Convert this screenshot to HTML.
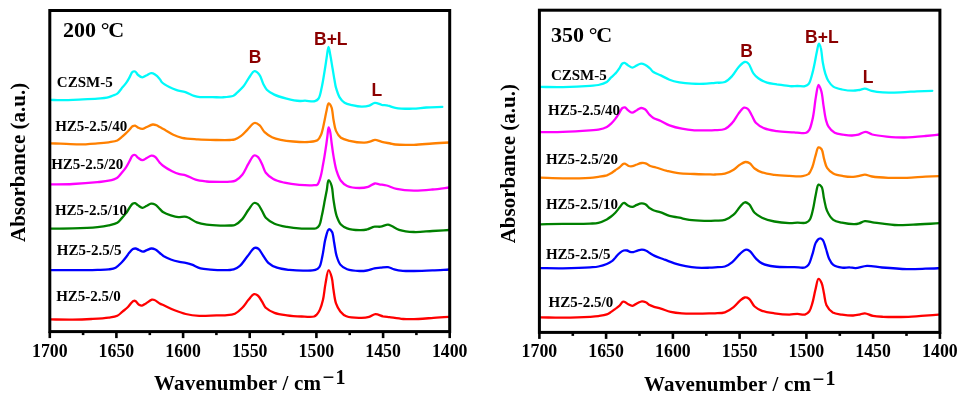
<!DOCTYPE html><html><head><meta charset="utf-8"><style>html,body{margin:0;padding:0;background:#fff;overflow:hidden}svg{display:block;will-change:transform}</style></head><body>
<svg width="966" height="404" viewBox="0 0 966 404">
<rect width="966" height="404" fill="#fff"/>
<g fill="none" stroke-width="2.3" stroke-linejoin="round" stroke-linecap="round">
<path d="M50.5 99.9 C53.8 100.0 56.6 100.2 60.4 100.2 C65.6 100.2 72.7 99.9 78.9 99.6 C85.1 99.3 92.4 99.0 97.5 98.6 C101.2 98.3 104.1 98.3 106.9 97.7 C109.2 97.2 111.2 96.2 113.0 95.5 C114.6 94.9 116.0 94.6 117.3 93.6 C118.9 92.4 120.2 90.1 121.6 88.4 C123.1 86.7 124.7 85.0 126.0 83.2 C127.3 81.4 128.3 79.5 129.4 77.6 C130.5 75.7 131.3 72.8 132.5 71.9 C133.3 71.3 134.3 71.2 135.1 71.5 C136.2 71.9 136.9 74.0 138.1 75.0 C139.3 76.0 140.9 77.3 142.4 77.3 C143.8 77.3 145.3 75.9 146.8 75.2 C148.2 74.5 149.7 73.3 151.1 73.2 C152.4 73.1 153.7 73.7 155.0 74.5 C156.6 75.5 158.5 77.5 159.7 78.9 C160.7 80.0 160.8 81.2 161.9 82.3 C163.5 83.9 166.8 85.7 169.3 87.0 C171.7 88.3 174.1 89.2 176.7 90.1 C179.4 91.0 182.5 91.2 185.4 92.2 C188.3 93.2 191.4 95.1 194.0 95.9 C196.1 96.6 197.6 96.9 200.0 97.1 C203.4 97.4 208.5 97.1 212.4 97.1 C215.9 97.1 218.9 97.5 222.3 97.3 C225.9 97.1 230.8 96.9 233.4 95.8 C235.1 95.0 235.7 93.9 237.1 92.7 C238.9 91.0 241.4 88.9 243.3 86.6 C245.4 84.1 247.0 80.6 248.9 77.9 C250.7 75.4 252.6 71.3 254.5 71.1 C256.1 70.9 258.1 73.1 259.4 74.8 C261.1 76.9 261.8 80.9 263.1 83.5 C264.3 85.8 265.1 87.9 266.8 89.7 C268.7 91.7 271.4 93.2 274.3 94.6 C277.8 96.3 282.4 97.5 286.6 98.6 C290.9 99.7 296.6 100.8 300.0 101.0 C302.1 101.1 303.1 100.7 305.0 100.7 C307.7 100.7 312.5 101.9 314.9 101.2 C316.5 100.7 317.6 100.0 318.6 98.5 C320.2 96.2 320.8 91.6 321.7 87.4 C322.9 82.2 323.9 75.1 324.8 69.8 C325.5 65.5 326.0 61.9 326.6 58.0 C327.2 54.3 327.8 47.0 328.5 47.0 C329.1 47.0 329.7 51.9 330.3 55.0 C331.1 59.2 332.0 65.3 332.8 69.8 C333.4 73.5 333.9 76.9 334.5 80.0 C335.0 82.7 335.2 84.8 335.9 87.4 C336.8 90.5 338.0 94.6 339.6 97.3 C341.0 99.6 342.6 101.5 344.6 102.8 C346.7 104.1 349.3 104.5 352.0 105.1 C355.0 105.8 358.8 106.6 361.9 106.6 C364.5 106.6 367.1 106.3 369.3 105.6 C371.3 105.0 372.9 103.1 374.9 102.9 C377.0 102.7 379.5 104.3 381.7 104.8 C383.8 105.2 385.8 105.1 387.9 105.6 C390.3 106.1 392.3 107.3 395.3 107.8 C399.8 108.6 407.2 108.8 412.6 108.7 C417.4 108.6 421.6 107.8 426.3 107.5 C431.4 107.2 437.0 107.1 442.3 106.9" stroke="#00FAFA"/>
<path d="M50.5 143.4 C53.8 143.5 56.6 143.5 60.4 143.6 C65.6 143.8 72.7 144.4 78.9 144.4 C85.1 144.4 92.1 143.8 97.5 143.4 C101.7 143.1 105.2 142.8 108.7 142.3 C111.8 141.8 115.0 141.6 117.3 140.5 C119.1 139.7 120.2 138.3 121.6 137.1 C123.1 135.9 124.6 134.5 126.0 133.2 C127.2 132.0 128.3 130.9 129.4 129.7 C130.6 128.5 131.8 126.7 132.9 126.1 C133.7 125.7 134.3 125.5 135.1 125.6 C136.1 125.8 137.0 127.1 138.1 127.6 C139.4 128.2 141.0 129.0 142.4 128.9 C143.9 128.8 145.2 127.7 146.8 127.0 C148.6 126.2 151.0 124.7 152.8 124.5 C154.1 124.4 155.2 124.8 156.3 125.2 C157.5 125.6 158.4 126.4 159.7 127.1 C161.5 128.1 163.8 129.2 165.9 130.4 C168.3 131.7 170.7 133.5 173.3 134.7 C176.0 136.0 178.6 137.0 182.0 137.8 C186.5 138.8 192.5 139.0 198.0 139.4 C204.0 139.8 210.9 139.9 216.6 140.0 C221.4 140.1 226.6 140.2 230.0 140.0 C232.0 139.9 233.2 140.0 234.9 139.4 C236.9 138.7 239.1 137.4 241.1 135.9 C243.3 134.3 245.1 131.9 247.3 129.8 C249.6 127.6 252.4 123.2 254.7 122.9 C256.4 122.6 258.2 124.1 259.7 125.4 C261.6 127.0 262.6 130.3 264.6 132.2 C266.7 134.2 269.3 135.9 272.0 137.2 C274.7 138.5 277.5 139.2 280.7 139.9 C284.4 140.7 288.7 141.2 293.1 141.5 C298.1 141.9 304.7 142.3 309.2 141.9 C312.4 141.6 315.4 141.6 317.4 140.2 C319.2 139.0 320.1 136.9 321.1 134.6 C322.5 131.4 323.3 126.3 324.2 122.2 C325.1 118.1 325.9 113.3 326.7 109.9 C327.3 107.4 327.7 103.6 328.6 103.4 C329.3 103.3 330.6 105.2 331.3 106.8 C332.6 109.6 332.7 115.6 333.5 119.8 C334.3 123.7 334.6 127.8 336.0 130.9 C337.2 133.6 338.7 136.1 340.9 137.7 C343.2 139.4 346.3 140.0 349.6 140.8 C353.9 141.8 360.6 142.7 364.5 142.6 C367.0 142.5 368.8 141.9 370.6 141.4 C372.2 141.0 373.4 139.9 375.0 139.8 C377.0 139.7 379.4 141.2 381.8 141.8 C384.5 142.5 387.9 143.0 390.4 143.5 C392.3 143.9 393.1 144.3 395.3 144.5 C399.5 145.0 407.7 145.0 413.9 144.8 C420.1 144.6 426.4 143.9 432.4 143.5 C438.1 143.1 443.6 142.8 449.2 142.5" stroke="#FF8000"/>
<path d="M50.5 184.4 C57.9 184.3 65.2 184.4 72.8 184.0 C80.8 183.6 90.9 182.8 97.5 182.1 C102.0 181.6 105.3 181.5 108.7 180.7 C111.8 180.0 115.1 179.2 117.3 177.7 C119.2 176.4 120.2 174.6 121.6 172.9 C123.1 171.1 124.7 169.3 126.0 167.3 C127.3 165.4 128.3 163.3 129.4 161.3 C130.5 159.4 131.3 156.5 132.5 155.6 C133.3 155.0 134.3 154.8 135.1 155.0 C136.1 155.3 137.0 157.0 138.1 157.8 C139.4 158.7 140.9 160.2 142.4 160.2 C143.8 160.2 145.3 158.8 146.8 158.0 C148.3 157.2 150.0 155.7 151.5 155.6 C152.7 155.5 153.9 156.0 155.0 156.8 C156.6 157.9 158.2 161.0 159.7 162.6 C161.0 163.9 161.8 164.8 163.4 166.0 C165.6 167.7 169.3 169.8 172.1 171.2 C174.6 172.4 177.1 173.4 179.5 174.1 C181.6 174.7 183.4 174.6 185.7 175.3 C188.7 176.2 192.1 178.7 195.6 179.7 C199.1 180.8 202.8 181.1 206.7 181.5 C211.0 181.9 216.1 181.9 220.3 181.9 C223.8 181.9 227.2 182.0 230.0 181.7 C232.1 181.5 233.7 181.5 235.5 180.6 C237.8 179.5 240.3 177.2 242.3 174.7 C244.7 171.7 246.4 167.0 248.5 163.6 C250.3 160.6 252.2 156.1 254.1 155.5 C255.3 155.1 256.7 155.9 257.8 156.8 C259.5 158.2 260.8 161.6 262.1 164.2 C263.5 166.9 264.0 170.3 265.8 172.8 C267.7 175.3 270.4 177.4 273.3 179.0 C276.5 180.8 280.4 181.7 284.4 182.7 C289.0 183.8 294.3 184.5 299.3 184.9 C304.2 185.3 310.9 185.5 314.1 185.2 C315.6 185.1 316.5 185.4 317.4 184.6 C318.8 183.4 319.6 180.0 320.5 177.1 C321.6 173.5 322.2 169.1 323.0 164.8 C323.9 160.1 324.8 154.7 325.5 149.9 C326.2 145.5 326.8 141.0 327.3 137.0 C327.8 133.6 328.0 127.5 328.6 127.4 C329.0 127.4 329.8 130.1 330.2 132.0 C330.8 134.7 331.0 138.4 331.5 142.0 C332.1 146.3 332.7 151.4 333.5 156.1 C334.4 161.0 335.2 166.5 336.6 170.9 C337.8 174.6 339.0 178.2 340.9 180.8 C342.6 183.1 344.5 184.8 347.1 186.0 C350.4 187.5 355.7 188.0 359.5 188.0 C362.7 188.0 365.5 187.6 368.2 186.8 C370.6 186.1 372.9 183.8 374.9 183.5 C376.5 183.3 377.6 184.0 379.3 184.3 C381.4 184.7 384.1 184.8 386.7 185.5 C389.8 186.3 392.8 188.1 396.6 188.9 C401.5 190.0 408.0 190.6 413.9 190.7 C420.0 190.8 426.4 190.1 432.4 189.5 C438.1 189.0 443.6 188.2 449.2 187.5" stroke="#FF00FF"/>
<path d="M50.5 228.6 C57.9 228.5 65.2 228.6 72.8 228.4 C80.8 228.2 90.9 227.8 97.5 227.1 C102.0 226.6 105.2 226.1 108.7 225.3 C111.8 224.6 115.1 224.0 117.3 222.7 C119.2 221.6 120.2 219.9 121.6 218.4 C123.1 216.8 124.7 215.0 126.0 213.2 C127.3 211.5 128.3 209.6 129.4 208.0 C130.4 206.5 131.4 204.5 132.5 203.7 C133.3 203.2 134.2 202.9 135.1 203.1 C136.1 203.3 137.0 204.7 138.1 205.4 C139.4 206.2 140.9 207.7 142.4 207.8 C143.8 207.9 145.3 206.5 146.8 205.8 C148.2 205.1 149.7 203.9 151.1 203.7 C152.4 203.5 153.7 203.8 155.0 204.5 C156.6 205.3 158.2 207.5 159.7 208.9 C161.0 210.1 161.8 211.3 163.4 212.3 C165.4 213.6 168.3 214.6 170.8 215.4 C173.3 216.2 175.9 217.0 178.3 217.2 C180.5 217.3 182.7 216.5 184.5 216.6 C185.9 216.7 186.8 216.9 188.2 217.5 C190.5 218.4 193.7 221.2 196.8 222.4 C199.9 223.6 203.1 224.2 206.7 224.7 C210.9 225.3 216.1 225.5 220.3 225.6 C223.8 225.7 227.3 225.7 230.0 225.5 C231.9 225.4 233.2 225.7 234.9 225.0 C237.2 224.0 240.1 221.5 242.3 219.1 C244.7 216.5 246.4 212.6 248.5 209.8 C250.4 207.3 252.2 203.5 254.1 203.0 C255.3 202.6 256.7 203.3 257.8 204.2 C259.4 205.5 260.8 208.7 262.1 211.0 C263.4 213.2 264.0 215.8 265.8 217.8 C267.9 220.1 271.2 222.2 274.5 223.7 C278.1 225.3 282.6 226.1 286.9 226.9 C291.6 227.8 297.1 228.3 301.7 228.6 C305.7 228.8 310.3 228.7 312.9 228.6 C314.3 228.5 315.2 228.8 316.2 228.3 C317.3 227.8 318.5 226.8 319.3 225.4 C320.6 223.2 321.0 219.4 321.8 215.8 C322.9 211.2 324.0 204.5 324.9 199.8 C325.6 196.1 326.2 193.3 326.8 190.0 C327.4 186.7 327.6 180.3 328.6 180.2 C329.4 180.1 330.9 183.6 331.7 186.1 C332.8 189.6 332.7 195.1 333.5 199.8 C334.3 204.9 335.1 211.4 336.6 215.8 C337.8 219.2 339.0 222.4 340.9 224.5 C342.6 226.3 344.6 227.4 347.1 228.3 C350.4 229.5 355.9 230.0 359.5 230.1 C362.3 230.2 364.5 230.0 366.9 229.5 C369.4 228.9 372.0 227.1 374.4 226.7 C376.5 226.3 378.4 227.0 380.5 226.7 C382.9 226.4 385.9 224.5 388.0 224.6 C389.5 224.7 390.3 225.4 391.7 226.0 C393.8 226.9 396.1 228.8 399.1 229.8 C403.1 231.1 408.7 231.8 413.9 232.0 C419.7 232.3 426.4 231.3 432.4 231.0 C438.1 230.7 443.6 230.3 449.2 230.0" stroke="#008000"/>
<path d="M50.5 270.2 C57.9 270.2 65.2 270.2 72.8 270.2 C80.8 270.2 90.9 270.1 97.5 269.9 C102.0 269.8 105.4 269.9 108.7 269.4 C111.3 269.0 113.5 268.8 115.6 267.7 C117.8 266.5 119.8 264.3 121.6 262.5 C123.3 260.8 124.7 259.0 126.0 257.3 C127.2 255.7 128.2 254.0 129.4 252.6 C130.5 251.3 131.7 249.8 132.9 249.1 C133.8 248.6 134.6 248.4 135.5 248.5 C136.6 248.6 137.8 249.5 139.0 250.0 C140.3 250.5 141.6 251.7 142.9 251.7 C144.2 251.7 145.4 250.7 146.8 250.2 C148.3 249.6 150.0 248.6 151.5 248.5 C152.9 248.4 154.1 248.9 155.4 249.5 C156.9 250.2 158.3 251.9 159.7 253.0 C161.0 254.0 161.9 255.0 163.4 256.0 C165.4 257.2 168.2 258.5 170.8 259.5 C173.5 260.5 176.8 261.3 179.5 261.9 C181.7 262.4 183.7 262.3 185.7 262.8 C187.8 263.3 189.7 263.9 191.9 264.7 C194.6 265.7 197.5 267.6 200.5 268.4 C203.6 269.2 206.9 269.3 210.4 269.6 C214.3 269.9 218.8 270.2 222.8 270.2 C226.6 270.2 230.7 270.3 233.7 269.4 C236.2 268.7 237.9 267.6 239.9 265.9 C242.5 263.7 244.8 259.6 247.3 256.6 C249.7 253.6 252.4 248.6 254.7 247.9 C256.0 247.5 257.2 248.0 258.4 248.8 C260.2 250.0 261.7 253.6 263.4 256.0 C265.0 258.3 266.2 260.9 268.3 262.8 C270.6 264.9 273.7 266.5 277.0 267.7 C280.7 269.0 285.0 269.4 289.4 269.9 C294.4 270.4 300.7 270.7 305.4 270.6 C309.1 270.6 312.8 270.8 315.3 269.9 C317.0 269.3 318.2 268.6 319.3 267.1 C321.0 264.8 321.5 260.1 322.4 255.9 C323.6 250.8 324.2 243.4 325.5 238.6 C326.5 235.0 327.4 229.7 328.8 229.3 C329.7 229.0 331.2 230.5 332.0 231.8 C333.3 234.0 333.4 238.6 334.1 242.3 C334.9 246.5 335.4 251.9 336.6 255.9 C337.6 259.2 338.5 262.3 340.3 264.6 C342.0 266.7 344.3 268.2 347.1 269.3 C350.5 270.6 355.9 270.9 359.5 271.0 C362.3 271.1 364.4 270.9 366.9 270.5 C369.4 270.1 372.0 268.8 374.4 268.3 C376.5 267.9 378.4 267.9 380.5 267.7 C382.9 267.5 385.6 266.8 388.0 267.1 C390.2 267.4 391.9 268.7 394.2 269.3 C396.8 270.0 399.7 270.5 402.8 270.8 C406.3 271.1 409.7 271.0 413.9 271.0 C419.3 271.0 426.4 270.7 432.4 270.4 C438.1 270.2 443.6 269.8 449.2 269.5" stroke="#0000FF"/>
<path d="M50.5 319.4 C57.9 319.5 65.7 319.7 72.8 319.6 C79.3 319.5 85.2 319.3 91.3 319.0 C97.2 318.7 103.9 318.4 108.7 317.7 C112.1 317.2 114.9 317.0 117.3 315.8 C119.4 314.8 120.8 313.0 122.5 311.6 C124.2 310.2 126.2 308.8 127.7 307.3 C129.1 305.9 130.1 304.2 131.2 303.0 C132.1 302.1 133.0 301.0 133.8 300.8 C134.4 300.6 134.9 300.8 135.5 301.1 C136.5 301.7 137.8 304.0 139.0 304.7 C140.0 305.3 141.0 305.7 142.0 305.6 C143.2 305.5 144.5 304.2 145.9 303.4 C147.7 302.3 150.3 300.1 151.9 299.7 C152.9 299.5 153.5 299.6 154.5 300.0 C156.0 300.5 157.9 302.4 159.7 303.4 C161.3 304.3 162.8 304.8 164.7 305.7 C167.4 307.0 171.2 308.9 174.6 310.3 C178.2 311.7 181.8 313.1 185.7 314.0 C190.0 315.0 194.5 315.6 199.3 315.9 C204.7 316.2 211.9 315.4 216.6 315.3 C219.9 315.2 222.1 315.5 225.0 315.3 C228.2 315.0 232.0 315.0 234.9 313.7 C237.7 312.4 240.1 310.1 242.3 307.8 C244.6 305.5 246.4 302.2 248.5 299.8 C250.3 297.7 252.3 294.6 254.1 294.2 C255.4 293.9 256.7 294.6 257.8 295.5 C259.4 296.7 260.8 299.6 262.1 301.7 C263.4 303.7 264.0 306.1 265.8 307.8 C267.9 309.9 271.2 311.6 274.5 312.8 C278.2 314.2 282.6 314.7 286.9 315.3 C291.6 316.0 297.0 316.3 301.7 316.5 C306.0 316.7 311.5 317.3 314.1 316.5 C315.4 316.1 315.9 315.4 316.8 314.5 C317.9 313.3 319.0 311.6 319.9 309.6 C321.1 306.9 322.1 303.4 323.0 299.7 C324.1 295.0 324.5 288.7 325.5 283.6 C326.4 278.9 327.4 270.3 328.6 270.2 C329.5 270.1 330.9 274.6 331.7 277.4 C332.7 280.9 332.8 285.6 333.5 289.8 C334.2 294.2 334.7 299.6 336.0 303.4 C337.1 306.5 338.5 309.2 340.3 311.4 C342.0 313.4 343.7 315.2 346.4 316.3 C350.2 317.8 357.4 317.9 361.6 317.8 C364.5 317.7 366.7 317.4 369.1 316.8 C371.4 316.2 373.3 314.3 375.5 314.2 C377.9 314.1 380.6 315.8 383.0 316.3 C385.2 316.7 386.8 316.8 389.3 317.1 C393.0 317.6 398.5 318.7 403.2 319.0 C408.1 319.3 413.3 319.2 418.4 319.0 C423.4 318.8 428.5 318.2 433.5 317.8 C438.6 317.4 443.6 317.1 448.7 316.8" stroke="#FF0000"/>
<path d="M540.0 86.9 C547.6 87.0 554.9 87.3 562.8 87.1 C571.5 86.9 583.5 86.3 590.0 85.8 C593.6 85.5 595.6 85.6 598.4 85.0 C601.2 84.4 604.6 83.4 606.8 82.0 C608.7 80.8 609.6 78.8 611.1 77.4 C612.5 76.0 614.0 75.1 615.3 73.6 C616.8 72.0 618.3 69.9 619.5 68.1 C620.6 66.5 621.3 64.3 622.4 63.5 C623.1 63.0 623.7 62.8 624.5 62.9 C625.5 63.1 626.7 64.4 627.9 65.2 C629.3 66.0 630.9 67.7 632.4 67.7 C633.9 67.7 635.3 66.1 636.8 65.4 C638.2 64.7 639.7 63.8 641.1 63.7 C642.4 63.6 643.7 64.1 645.0 64.7 C646.6 65.4 648.3 66.9 649.7 68.2 C651.1 69.4 651.8 70.9 653.4 72.0 C655.3 73.4 658.2 74.2 660.8 75.4 C663.6 76.7 666.4 78.5 669.5 79.7 C672.6 80.9 675.9 81.7 679.4 82.4 C683.3 83.1 687.5 83.5 691.8 83.7 C696.5 83.9 702.4 83.9 706.6 83.7 C709.8 83.5 712.1 83.1 715.0 82.8 C718.2 82.5 722.0 83.2 724.9 82.0 C727.8 80.8 730.1 78.2 732.3 75.8 C734.6 73.3 736.3 69.6 738.5 67.2 C740.4 65.1 742.8 62.3 744.7 62.0 C746.0 61.8 747.3 62.4 748.4 63.5 C750.3 65.3 751.5 70.8 753.4 73.4 C754.9 75.5 756.3 76.9 758.3 78.3 C760.7 80.0 763.9 81.6 767.0 82.6 C770.1 83.6 773.4 83.7 776.9 84.3 C781.0 84.9 786.2 86.0 790.0 86.2 C792.8 86.4 794.9 86.0 797.4 86.0 C799.9 86.0 802.9 86.7 804.9 86.2 C806.4 85.8 807.5 85.4 808.6 84.1 C810.3 82.1 811.3 77.2 812.3 73.6 C813.3 70.0 814.0 66.2 814.8 62.5 C815.5 59.0 816.1 55.3 816.8 52.0 C817.5 49.0 818.1 43.7 818.9 43.6 C819.5 43.5 820.2 45.7 820.7 47.5 C821.7 50.8 822.0 57.9 822.8 62.5 C823.5 66.5 824.3 70.3 825.3 73.6 C826.2 76.4 827.0 78.8 828.4 81.0 C829.7 83.1 831.2 85.2 833.3 86.6 C835.6 88.1 838.9 88.8 842.0 89.5 C845.4 90.2 849.9 90.7 853.1 90.7 C855.5 90.7 857.3 90.3 859.3 90.0 C861.2 89.7 863.0 88.6 864.9 88.7 C867.1 88.8 869.1 90.3 871.7 90.9 C874.9 91.6 878.6 92.1 882.8 92.4 C888.0 92.7 894.9 92.5 900.7 92.3 C906.2 92.1 911.5 91.6 916.8 91.3 C922.0 91.1 927.1 91.0 932.3 90.8" stroke="#00FAFA"/>
<path d="M540.0 132.1 C547.6 132.0 554.9 132.2 562.8 131.9 C571.5 131.6 583.5 130.8 590.0 130.3 C593.6 130.0 595.6 130.2 598.4 129.6 C601.2 129.0 604.5 128.1 606.8 126.9 C608.6 126.0 609.7 124.9 611.1 123.6 C612.6 122.2 614.0 120.6 615.3 118.9 C616.8 117.0 618.2 114.5 619.5 112.6 C620.6 111.0 621.3 108.8 622.4 108.0 C623.2 107.5 624.1 107.2 624.9 107.4 C625.9 107.7 626.8 109.3 627.9 110.1 C629.1 111.0 630.6 112.6 632.0 112.7 C633.5 112.8 635.2 111.0 636.8 110.2 C638.3 109.4 639.7 108.1 641.1 108.0 C642.4 107.9 643.8 108.5 645.0 109.3 C646.7 110.4 648.2 113.4 649.7 114.9 C650.9 116.1 651.9 117.0 653.4 117.9 C655.4 119.1 658.3 119.8 660.8 121.0 C663.6 122.3 666.3 124.1 669.5 125.3 C673.2 126.7 677.7 127.9 681.9 128.7 C686.0 129.5 690.0 130.0 694.3 130.3 C699.0 130.6 705.3 130.3 709.1 130.3 C711.5 130.3 712.8 130.4 715.0 130.2 C717.9 130.0 722.0 130.3 724.9 129.0 C727.8 127.8 730.1 125.2 732.3 122.8 C734.7 120.2 736.4 116.3 738.5 113.6 C740.3 111.3 742.3 108.2 744.1 107.7 C745.4 107.4 746.7 108.0 747.8 108.9 C749.5 110.2 750.7 113.6 752.1 116.0 C753.4 118.3 754.0 120.8 755.8 122.8 C757.9 125.1 761.2 127.0 764.5 128.4 C768.1 129.9 772.4 130.4 776.9 131.1 C782.2 131.9 789.6 132.0 794.2 132.4 C797.2 132.7 799.4 133.1 801.6 133.1 C803.3 133.1 804.9 133.4 806.2 132.8 C807.5 132.2 808.4 131.2 809.3 129.8 C810.7 127.6 811.6 123.0 812.4 119.9 C813.1 117.2 813.3 115.2 813.8 112.2 C814.5 107.8 815.1 101.0 816.0 96.1 C816.7 92.0 817.5 85.1 818.5 85.0 C819.3 84.9 820.5 88.6 821.3 91.1 C822.4 94.7 822.7 100.1 823.4 104.8 C824.2 109.6 824.8 115.6 825.9 119.6 C826.7 122.4 827.1 124.6 828.5 126.7 C830.0 129.0 832.2 131.5 834.7 132.8 C837.2 134.1 840.4 134.2 843.3 134.7 C846.2 135.1 849.3 135.6 852.0 135.5 C854.3 135.4 856.2 135.2 858.4 134.6 C860.7 134.0 863.2 131.8 865.5 131.8 C867.8 131.8 869.5 133.8 872.2 134.5 C876.0 135.5 881.5 136.1 886.6 136.6 C892.2 137.1 898.2 137.6 904.4 137.5 C911.1 137.4 919.1 136.6 925.4 136.0 C930.6 135.5 934.9 135.0 939.7 134.5" stroke="#FF00FF"/>
<path d="M540.0 177.7 C547.6 177.9 554.9 178.3 562.8 178.3 C571.5 178.3 583.5 178.2 590.0 177.8 C593.6 177.6 595.6 177.2 598.4 176.8 C601.2 176.4 604.5 176.0 606.8 175.3 C608.5 174.7 609.7 174.0 611.1 173.2 C612.5 172.3 613.9 171.2 615.3 170.2 C616.7 169.2 618.2 168.4 619.5 167.3 C620.8 166.3 622.2 164.4 623.3 163.9 C623.9 163.6 624.3 163.5 624.9 163.6 C625.9 163.8 627.4 165.6 628.7 166.0 C629.9 166.4 631.1 166.4 632.4 166.2 C633.8 166.0 635.3 165.0 636.8 164.5 C638.4 163.9 640.2 163.1 641.9 163.0 C643.4 162.9 645.0 163.1 646.3 163.6 C647.6 164.1 648.3 165.2 649.7 165.8 C651.4 166.6 653.5 166.8 655.9 167.5 C659.1 168.4 663.3 169.9 667.0 170.9 C670.7 171.8 674.1 172.7 678.2 173.2 C683.1 173.8 689.0 173.8 694.3 174.0 C699.3 174.2 705.3 174.3 709.1 174.4 C711.5 174.5 712.8 174.6 715.0 174.5 C717.9 174.4 721.8 174.5 724.9 173.7 C728.0 172.9 731.0 171.3 733.6 169.7 C735.9 168.3 737.7 166.1 739.8 164.8 C741.6 163.6 743.5 162.2 745.3 162.0 C746.8 161.9 748.3 162.4 749.7 163.3 C751.4 164.4 752.7 167.0 754.6 168.5 C756.7 170.1 759.1 171.4 762.0 172.4 C765.5 173.7 770.1 174.3 774.4 174.9 C779.1 175.5 784.5 175.7 789.3 175.9 C793.8 176.1 798.9 176.7 802.4 176.1 C804.9 175.7 807.0 175.4 808.6 174.0 C810.4 172.5 811.2 169.8 812.3 167.2 C813.6 164.0 814.3 159.6 815.4 156.1 C816.4 153.0 817.1 147.9 818.5 147.4 C819.4 147.1 820.8 148.2 821.6 149.3 C822.9 151.1 823.1 155.5 824.0 158.6 C824.9 161.7 825.4 165.3 827.1 167.8 C828.6 170.1 830.8 172.0 833.3 173.4 C836.1 174.9 839.9 175.5 843.2 176.1 C846.5 176.7 850.2 177.0 853.1 176.9 C855.4 176.8 857.3 176.3 859.3 175.9 C861.2 175.5 862.9 174.6 864.9 174.6 C867.1 174.6 869.1 176.0 872.0 176.5 C876.3 177.2 882.7 177.6 888.3 177.8 C894.3 178.0 900.7 178.0 906.9 177.8 C913.1 177.6 919.6 176.9 925.4 176.6 C930.5 176.4 934.9 176.3 939.7 176.2" stroke="#FF8000"/>
<path d="M540.0 224.3 C547.6 224.2 554.9 224.0 562.8 223.9 C571.5 223.8 583.5 223.9 590.0 223.6 C593.6 223.4 595.6 223.5 598.4 222.8 C601.3 222.1 604.5 220.6 606.8 219.4 C608.5 218.5 609.7 217.6 611.1 216.5 C612.6 215.4 613.9 214.1 615.3 212.7 C616.8 211.2 618.2 209.2 619.5 207.6 C620.7 206.1 621.8 204.1 622.8 203.4 C623.4 203.0 623.9 202.9 624.5 203.0 C625.5 203.2 626.6 204.9 627.9 205.5 C629.2 206.2 630.9 207.0 632.4 206.9 C633.9 206.8 635.3 205.5 636.8 204.9 C638.3 204.3 640.0 203.5 641.5 203.4 C642.9 203.3 644.1 203.6 645.4 204.3 C646.9 205.1 648.3 207.2 649.7 208.2 C650.9 209.1 651.9 209.7 653.4 210.3 C655.4 211.1 658.3 211.5 660.8 212.4 C663.6 213.4 666.5 215.0 669.5 215.9 C672.6 216.8 676.1 217.0 679.4 217.7 C682.7 218.4 685.6 219.4 689.3 219.9 C693.7 220.5 699.6 220.7 704.2 220.8 C708.1 220.9 711.5 220.8 715.0 220.6 C718.4 220.4 721.8 220.9 724.9 219.9 C728.0 218.9 731.1 216.9 733.6 214.7 C736.1 212.6 737.8 209.2 739.8 207.0 C741.5 205.2 743.0 202.6 744.7 202.3 C746.1 202.0 747.6 203.0 749.0 204.1 C751.0 205.8 752.3 210.5 754.6 212.8 C756.7 214.9 759.1 216.3 762.0 217.7 C765.5 219.4 770.0 220.6 774.4 221.5 C779.1 222.5 785.1 223.0 789.3 223.1 C792.4 223.2 794.7 222.8 797.4 222.7 C800.2 222.6 803.9 223.5 806.1 222.7 C807.7 222.1 808.8 221.1 809.8 219.6 C811.3 217.4 812.0 213.4 812.9 209.7 C814.0 205.3 814.7 199.4 815.7 194.9 C816.6 191.2 817.1 185.2 818.5 184.7 C819.4 184.4 820.8 185.6 821.6 186.8 C823.1 189.0 823.1 194.6 824.0 198.6 C824.9 202.7 825.4 207.3 827.1 210.9 C828.6 214.3 830.7 217.9 833.3 219.9 C835.7 221.7 838.8 222.0 842.0 222.7 C845.7 223.5 851.2 224.3 854.4 224.2 C856.4 224.1 857.6 223.8 859.3 223.3 C861.1 222.8 862.7 221.4 864.8 221.2 C867.5 220.9 871.1 222.3 874.2 222.7 C877.1 223.1 879.7 223.3 882.8 223.6 C886.4 224.0 890.1 224.8 894.5 225.0 C900.0 225.3 906.3 224.9 913.1 224.7 C921.2 224.4 930.8 223.7 939.7 223.2" stroke="#008000"/>
<path d="M540.0 268.1 C547.6 268.2 554.9 268.4 562.8 268.3 C571.5 268.2 583.5 267.9 590.0 267.4 C593.6 267.1 595.6 267.1 598.4 266.5 C601.2 265.9 604.4 265.0 606.8 264.0 C608.8 263.2 610.4 262.2 611.9 261.1 C613.2 260.1 614.1 258.9 615.3 257.7 C616.6 256.3 618.0 254.3 619.5 253.1 C620.8 252.0 622.3 250.9 623.7 250.5 C624.8 250.2 626.0 250.3 627.1 250.5 C628.1 250.7 629.0 251.5 630.0 251.8 C631.0 252.1 632.1 252.2 633.3 252.1 C634.7 251.9 636.2 251.0 637.6 250.6 C639.0 250.2 640.5 249.7 641.9 249.7 C643.4 249.7 645.0 250.2 646.3 250.8 C647.6 251.3 648.4 252.2 649.7 253.0 C651.2 253.9 652.7 254.9 654.7 255.9 C657.4 257.2 661.3 258.4 664.6 259.7 C667.9 260.9 671.1 262.3 674.5 263.4 C678.1 264.5 681.9 265.4 685.6 266.1 C689.3 266.8 692.9 267.4 696.7 267.7 C700.7 268.0 705.7 267.8 709.1 267.7 C711.4 267.6 712.8 267.5 715.0 267.3 C717.9 267.1 721.9 267.4 724.9 266.5 C727.7 265.6 730.0 264.0 732.3 262.1 C735.0 260.0 737.4 256.3 739.8 254.1 C741.7 252.4 743.5 250.2 745.3 249.8 C746.8 249.5 748.3 250.1 749.7 251.0 C751.8 252.4 753.6 256.3 755.8 258.4 C757.8 260.3 759.4 262.1 762.0 263.4 C765.3 265.0 769.7 265.9 774.4 266.5 C780.2 267.3 788.6 266.9 794.2 267.1 C798.3 267.2 802.4 268.3 804.9 267.5 C806.6 267.0 807.5 266.1 808.6 264.6 C810.2 262.4 811.1 258.2 812.3 254.7 C813.6 250.8 814.4 245.1 816.0 242.3 C817.1 240.5 818.4 238.6 819.7 238.4 C820.7 238.2 821.9 238.9 822.8 239.9 C824.2 241.5 824.9 245.5 825.9 248.5 C827.0 251.7 827.6 255.5 829.0 258.4 C830.2 260.9 831.3 263.4 833.3 264.9 C835.5 266.6 839.2 267.3 842.0 267.7 C844.5 268.0 847.1 267.2 849.4 267.3 C851.5 267.4 853.2 268.3 855.5 268.2 C858.7 268.1 862.9 266.1 867.0 265.9 C871.7 265.7 876.4 267.0 882.1 267.5 C889.3 268.1 899.2 268.9 906.9 269.1 C913.5 269.2 919.6 268.9 925.4 268.7 C930.5 268.6 934.9 268.4 939.7 268.2" stroke="#0000FF"/>
<path d="M540.0 317.3 C547.6 317.4 554.9 317.8 562.8 317.7 C571.5 317.6 583.5 317.2 590.0 316.8 C593.6 316.6 595.6 316.5 598.4 316.1 C601.2 315.7 604.5 315.3 606.8 314.4 C608.5 313.7 609.7 312.8 611.1 311.9 C612.5 311.0 613.9 309.9 615.3 308.9 C616.7 307.8 618.2 306.8 619.5 305.6 C620.7 304.4 621.8 302.3 622.8 301.8 C623.4 301.5 623.9 301.6 624.5 301.8 C625.6 302.1 627.0 303.6 628.3 304.3 C629.6 305.0 631.0 305.9 632.4 305.8 C634.0 305.7 635.6 304.0 637.2 303.2 C638.8 302.5 640.4 301.4 641.9 301.3 C643.2 301.2 644.6 301.7 645.8 302.3 C647.2 302.9 648.4 304.4 649.7 305.1 C650.9 305.8 651.9 306.1 653.4 306.6 C655.4 307.3 658.2 307.9 660.8 308.7 C663.9 309.6 667.3 311.1 670.7 311.9 C674.3 312.7 677.9 313.1 681.9 313.4 C686.5 313.7 692.0 313.6 696.7 313.6 C701.0 313.6 705.7 313.5 709.1 313.4 C711.4 313.4 712.8 313.4 715.0 313.3 C717.9 313.1 721.8 313.3 724.9 312.3 C728.0 311.3 731.1 309.1 733.6 307.1 C736.0 305.3 737.8 302.6 739.8 300.9 C741.5 299.5 743.1 297.8 744.7 297.5 C746.1 297.3 747.6 297.7 749.0 298.7 C751.0 300.1 752.3 304.5 754.6 306.5 C756.7 308.4 759.1 309.7 762.0 310.8 C765.5 312.1 770.1 312.7 774.4 313.3 C779.1 314.0 785.1 314.6 789.3 314.6 C792.4 314.6 794.8 313.9 797.4 313.9 C799.9 313.9 802.8 315.2 804.9 314.6 C806.6 314.1 808.0 313.0 809.2 311.5 C810.7 309.6 811.4 306.5 812.3 303.4 C813.5 299.5 814.3 294.1 815.4 289.8 C816.4 286.0 817.2 279.1 818.5 278.9 C819.4 278.7 820.8 281.2 821.6 283.0 C822.8 285.6 823.2 289.9 824.0 293.5 C824.8 297.3 824.9 301.9 826.5 305.2 C828.0 308.2 830.2 311.0 832.8 312.6 C835.4 314.1 838.8 314.1 842.0 314.6 C845.5 315.1 849.9 315.6 853.1 315.5 C855.5 315.4 857.3 315.0 859.3 314.6 C861.2 314.2 862.9 313.2 864.9 313.3 C867.4 313.4 870.1 315.3 873.0 315.9 C876.1 316.5 879.0 316.6 883.1 316.8 C889.6 317.1 901.4 317.0 908.4 316.8 C913.3 316.6 916.4 316.2 921.0 315.9 C926.4 315.5 932.8 315.0 938.7 314.6" stroke="#FF0000"/>
</g>
<rect x="49.8" y="10.5" width="399.9" height="321.1" fill="none" stroke="#000" stroke-width="3.0"/>
<line x1="49.8" y1="331.6" x2="49.8" y2="338.1" stroke="#000" stroke-width="2.6"/>
<line x1="83.1" y1="331.6" x2="83.1" y2="335.1" stroke="#000" stroke-width="2.6"/>
<line x1="116.4" y1="331.6" x2="116.4" y2="338.1" stroke="#000" stroke-width="2.6"/>
<line x1="149.8" y1="331.6" x2="149.8" y2="335.1" stroke="#000" stroke-width="2.6"/>
<line x1="183.1" y1="331.6" x2="183.1" y2="338.1" stroke="#000" stroke-width="2.6"/>
<line x1="216.4" y1="331.6" x2="216.4" y2="335.1" stroke="#000" stroke-width="2.6"/>
<line x1="249.7" y1="331.6" x2="249.7" y2="338.1" stroke="#000" stroke-width="2.6"/>
<line x1="283.1" y1="331.6" x2="283.1" y2="335.1" stroke="#000" stroke-width="2.6"/>
<line x1="316.4" y1="331.6" x2="316.4" y2="338.1" stroke="#000" stroke-width="2.6"/>
<line x1="349.7" y1="331.6" x2="349.7" y2="335.1" stroke="#000" stroke-width="2.6"/>
<line x1="383.1" y1="331.6" x2="383.1" y2="338.1" stroke="#000" stroke-width="2.6"/>
<line x1="416.4" y1="331.6" x2="416.4" y2="335.1" stroke="#000" stroke-width="2.6"/>
<line x1="449.7" y1="331.6" x2="449.7" y2="338.1" stroke="#000" stroke-width="2.6"/>
<rect x="539.4" y="10.2" width="400.5" height="322.2" fill="none" stroke="#000" stroke-width="3.0"/>
<line x1="539.4" y1="332.4" x2="539.4" y2="338.9" stroke="#000" stroke-width="2.6"/>
<line x1="572.8" y1="332.4" x2="572.8" y2="335.9" stroke="#000" stroke-width="2.6"/>
<line x1="606.1" y1="332.4" x2="606.1" y2="338.9" stroke="#000" stroke-width="2.6"/>
<line x1="639.5" y1="332.4" x2="639.5" y2="335.9" stroke="#000" stroke-width="2.6"/>
<line x1="672.9" y1="332.4" x2="672.9" y2="338.9" stroke="#000" stroke-width="2.6"/>
<line x1="706.3" y1="332.4" x2="706.3" y2="335.9" stroke="#000" stroke-width="2.6"/>
<line x1="739.6" y1="332.4" x2="739.6" y2="338.9" stroke="#000" stroke-width="2.6"/>
<line x1="773.0" y1="332.4" x2="773.0" y2="335.9" stroke="#000" stroke-width="2.6"/>
<line x1="806.4" y1="332.4" x2="806.4" y2="338.9" stroke="#000" stroke-width="2.6"/>
<line x1="839.8" y1="332.4" x2="839.8" y2="335.9" stroke="#000" stroke-width="2.6"/>
<line x1="873.1" y1="332.4" x2="873.1" y2="338.9" stroke="#000" stroke-width="2.6"/>
<line x1="906.5" y1="332.4" x2="906.5" y2="335.9" stroke="#000" stroke-width="2.6"/>
<line x1="939.9" y1="332.4" x2="939.9" y2="338.9" stroke="#000" stroke-width="2.6"/>
<text x="49.8" y="357.0" text-anchor="middle" font-family="'Liberation Serif', serif" font-weight="bold" font-size="17.8">1700</text>
<text x="116.4" y="357.0" text-anchor="middle" font-family="'Liberation Serif', serif" font-weight="bold" font-size="17.8">1650</text>
<text x="183.1" y="357.0" text-anchor="middle" font-family="'Liberation Serif', serif" font-weight="bold" font-size="17.8">1600</text>
<text x="249.7" y="357.0" text-anchor="middle" font-family="'Liberation Serif', serif" font-weight="bold" font-size="17.8">1550</text>
<text x="316.4" y="357.0" text-anchor="middle" font-family="'Liberation Serif', serif" font-weight="bold" font-size="17.8">1500</text>
<text x="383.1" y="357.0" text-anchor="middle" font-family="'Liberation Serif', serif" font-weight="bold" font-size="17.8">1450</text>
<text x="449.7" y="357.0" text-anchor="middle" font-family="'Liberation Serif', serif" font-weight="bold" font-size="17.8">1400</text>
<text x="539.4" y="357.0" text-anchor="middle" font-family="'Liberation Serif', serif" font-weight="bold" font-size="17.8">1700</text>
<text x="606.1" y="357.0" text-anchor="middle" font-family="'Liberation Serif', serif" font-weight="bold" font-size="17.8">1650</text>
<text x="672.9" y="357.0" text-anchor="middle" font-family="'Liberation Serif', serif" font-weight="bold" font-size="17.8">1600</text>
<text x="739.6" y="357.0" text-anchor="middle" font-family="'Liberation Serif', serif" font-weight="bold" font-size="17.8">1550</text>
<text x="806.4" y="357.0" text-anchor="middle" font-family="'Liberation Serif', serif" font-weight="bold" font-size="17.8">1500</text>
<text x="873.1" y="357.0" text-anchor="middle" font-family="'Liberation Serif', serif" font-weight="bold" font-size="17.8">1450</text>
<text x="939.9" y="357.0" text-anchor="middle" font-family="'Liberation Serif', serif" font-weight="bold" font-size="17.8">1400</text>
<text x="63.0" y="37.0" font-family="'Liberation Serif', serif" font-weight="bold" font-size="22.0" fill="#000" >200 <tspan dx="-0.8" letter-spacing="-1.2">&#176;</tspan>C</text>
<text x="551.0" y="41.7" font-family="'Liberation Serif', serif" font-weight="bold" font-size="22.0" fill="#000" >350 <tspan dx="-0.8" letter-spacing="-1.2">&#176;</tspan>C</text>
<text x="56.8" y="86.6" font-family="'Liberation Serif', serif" font-weight="bold" font-size="15.0" fill="#000" >CZSM-5</text>
<text x="55.2" y="130.7" font-family="'Liberation Serif', serif" font-weight="bold" font-size="15.0" fill="#000" >HZ5-2.5/40</text>
<text x="51.2" y="169.1" font-family="'Liberation Serif', serif" font-weight="bold" font-size="15.0" fill="#000" >HZ5-2.5/20</text>
<text x="54.9" y="214.5" font-family="'Liberation Serif', serif" font-weight="bold" font-size="15.0" fill="#000" >HZ5-2.5/10</text>
<text x="56.8" y="255.4" font-family="'Liberation Serif', serif" font-weight="bold" font-size="15.0" fill="#000" >HZ5-2.5/5</text>
<text x="56.2" y="301.0" font-family="'Liberation Serif', serif" font-weight="bold" font-size="15.0" fill="#000" >HZ5-2.5/0</text>
<text x="550.9" y="80.3" font-family="'Liberation Serif', serif" font-weight="bold" font-size="15.0" fill="#000" >CZSM-5</text>
<text x="548.0" y="115.0" font-family="'Liberation Serif', serif" font-weight="bold" font-size="15.0" fill="#000" >HZ5-2.5/40</text>
<text x="545.9" y="163.5" font-family="'Liberation Serif', serif" font-weight="bold" font-size="15.0" fill="#000" >HZ5-2.5/20</text>
<text x="545.9" y="208.5" font-family="'Liberation Serif', serif" font-weight="bold" font-size="15.0" fill="#000" >HZ5-2.5/10</text>
<text x="545.9" y="258.7" font-family="'Liberation Serif', serif" font-weight="bold" font-size="15.0" fill="#000" >HZ5-2.5/5</text>
<text x="548.6" y="307.4" font-family="'Liberation Serif', serif" font-weight="bold" font-size="15.0" fill="#000" >HZ5-2.5/0</text>
<text x="248.7" y="63.4" font-family="'Liberation Sans', sans-serif" font-weight="bold" font-size="17.5" fill="#8B0000" >B</text>
<text x="314.0" y="44.9" font-family="'Liberation Sans', sans-serif" font-weight="bold" font-size="17.5" fill="#8B0000" >B+L</text>
<text x="371.6" y="95.9" font-family="'Liberation Sans', sans-serif" font-weight="bold" font-size="17.5" fill="#8B0000" >L</text>
<text x="740.3" y="57.2" font-family="'Liberation Sans', sans-serif" font-weight="bold" font-size="17.5" fill="#8B0000" >B</text>
<text x="805.1" y="42.7" font-family="'Liberation Sans', sans-serif" font-weight="bold" font-size="17.5" fill="#8B0000" >B+L</text>
<text x="862.8" y="83.0" font-family="'Liberation Sans', sans-serif" font-weight="bold" font-size="17.5" fill="#8B0000" >L</text>
<text x="154.0" y="389.6" font-family="'Liberation Serif', serif" font-weight="bold" font-size="21" letter-spacing="0.2">Wavenumber / cm</text>
<text x="322.5" y="384.4" font-family="'Liberation Serif', serif" font-weight="bold" font-size="21">&#8722;</text>
<text x="335.5" y="383.6" font-family="'Liberation Serif', serif" font-weight="bold" font-size="20">1</text>
<text x="644.0" y="391.4" font-family="'Liberation Serif', serif" font-weight="bold" font-size="21" letter-spacing="0.2">Wavenumber / cm</text>
<text x="812.5" y="386.2" font-family="'Liberation Serif', serif" font-weight="bold" font-size="21">&#8722;</text>
<text x="825.5" y="385.4" font-family="'Liberation Serif', serif" font-weight="bold" font-size="20">1</text>
<text transform="translate(24.7 242.0) rotate(-90)" font-family="'Liberation Serif', serif" font-weight="bold" font-size="21">Absorbance (a.u.)</text>
<text transform="translate(514.8 243.3) rotate(-90)" font-family="'Liberation Serif', serif" font-weight="bold" font-size="21">Absorbance (a.u.)</text>
</svg></body></html>
